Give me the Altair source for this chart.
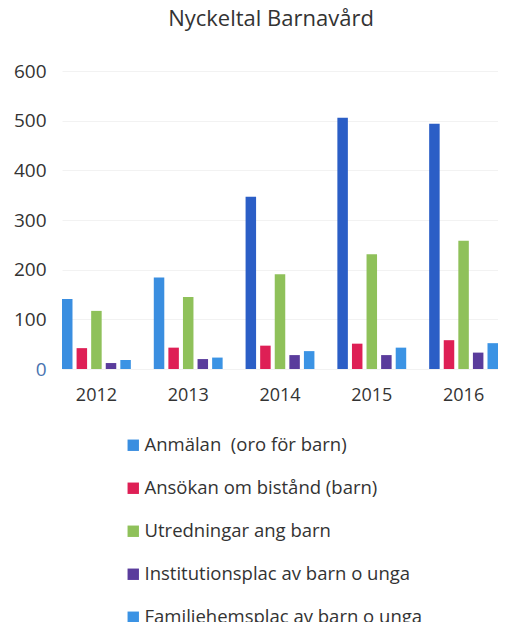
import altair as alt
import pandas as pd

years = ["2012", "2013", "2014", "2015", "2016"]
series = [
    "Anmälan \u00a0(oro för barn)",
    "Ansökan om bistånd (barn)",
    "Utredningar ang barn",
    "Institutionsplac av barn o unga",
    "Familjehemsplac av barn o unga",
]
anmalan = [141, 184, 347, 506, 494]
ansokan = [42, 43, 47, 51, 58]
utredningar = [117, 145, 191, 231, 258]
institution = [12, 20, 28, 28, 33]
familjehem = [18, 23, 36, 43, 52]
colors = ["#3A8EE0", "#DE1F55", "#8FC15A", "#5A3C9C", "#3B93E4"]

values = [anmalan, ansokan, utredningar, institution, familjehem]
rows = []
for s, vals in zip(series, values):
    for y, v in zip(years, vals):
        rows.append({"year": y, "series": s, "value": v})
df = pd.DataFrame(rows)

FONT = "Open Sans"

chart = (
    alt.Chart(df)
    .mark_bar()
    .encode(
        x=alt.X("year:N", sort=years, title=None,
                scale=alt.Scale(paddingInner=0.25, paddingOuter=0),
                axis=alt.Axis(labelAngle=0, labelFontSize=18, labelColor="#333333",
                              labelPadding=17, domain=False, ticks=False, labelFont=FONT)),
        xOffset=alt.XOffset("series:N", sort=series,
                            scale=alt.Scale(paddingInner=0.28, paddingOuter=0)),
        y=alt.Y("value:Q", title=None,
                scale=alt.Scale(domain=[0, 600], nice=False),
                axis=alt.Axis(values=[0, 100, 200, 300, 400, 500, 600], labelFontSize=19,
                              labelColor=alt.condition("datum.value == 0", alt.value("#4A74B0"),
                                                       alt.value("#333333")),
                              labelPadding=16, domain=False, ticks=False,
                              gridColor="#f2f2f2", labelFont=FONT)),
        color=alt.condition(
            "datum.series == 'Anmälan \u00a0(oro för barn)' && toNumber(datum.year) >= 2014",
            alt.value("#2B5EC6"),
            alt.Color("series:N", sort=series,
                      scale=alt.Scale(domain=series, range=colors),
                      legend=alt.Legend(title=None, orient="none", legendX=62, legendY=365,
                                        direction="vertical", symbolType="square",
                                        symbolSize=130, symbolStrokeWidth=0,
                                        labelFontSize=18.5, labelColor="#333333",
                                        labelFont=FONT, rowPadding=24, labelOffset=2,
                                        labelLimit=0)),
        ),
    )
    .properties(
        width=436,
        height=298,
        padding={"left": 5, "top": 0, "right": 0, "bottom": 0},
        title=alt.TitleParams("Nyckeltal Barnavård", fontSize=22, font=FONT,
                              fontWeight="normal", color="#333333", offset=31, dx=-9),
    )
    .configure_view(stroke=None)
)

chart.save("out.html", embed_options={"renderer": "svg", "actions": False})
